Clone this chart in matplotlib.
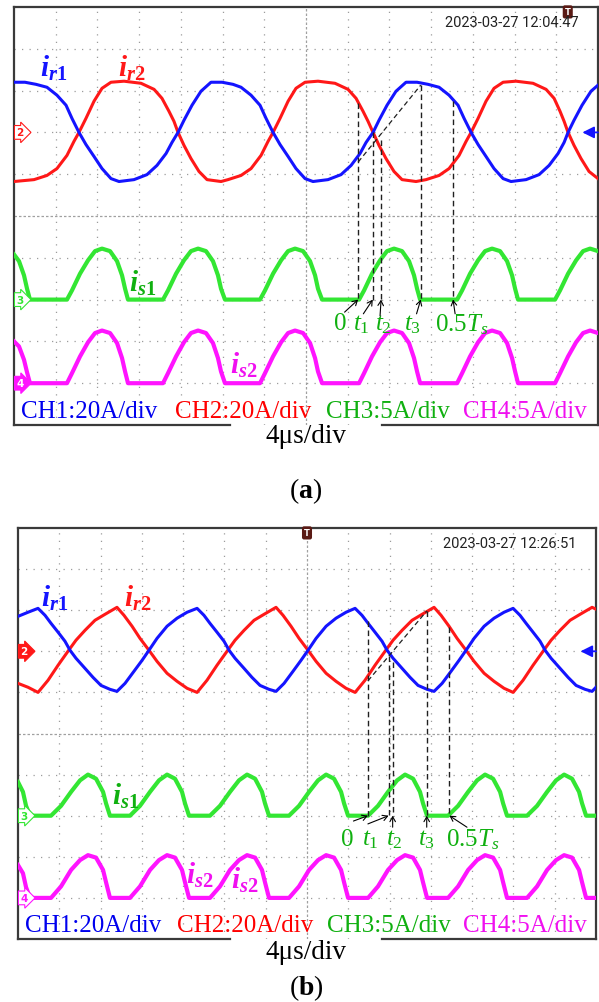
import matplotlib
matplotlib.use("Agg")
import matplotlib.pyplot as plt

plt.rcParams['font.family'] = ['Liberation Serif', 'DejaVu Serif']
plt.rcParams['mathtext.fontset'] = 'custom'
plt.rcParams['mathtext.rm'] = 'Liberation Serif'
plt.rcParams['mathtext.it'] = 'Liberation Serif:italic'
plt.rcParams['mathtext.bf'] = 'Liberation Serif:bold'
if 'mathtext.bfit' in plt.rcParams:
    plt.rcParams['mathtext.bfit'] = 'Liberation Serif:italic:bold'

# ---- scope settings ----
T_DIV = 4.0          # us/div
SCALE_R = 20.0       # A/div CH1, CH2
SCALE_S = 5.0        # A/div CH3, CH4
POS_R, POS_S1, POS_S2 = 7.0, 3.0, 1.0   # channel zero positions (div from bottom)

# ---- (a) waveforms: time [us], current [A] ----
t_r1_a = [0.00, 1.05, 2.11, 3.16, 4.12, 4.99, 5.56, 6.23, 6.90, 7.67, 8.44, 9.30, 10.07, 11.51, 12.75, 13.71,
          14.58, 15.15, 15.73, 16.30, 17.07, 17.93, 18.89, 19.95, 21.00, 21.77, 22.73, 23.59, 24.17, 24.84,
          25.51, 26.28, 27.04, 27.91, 28.67, 30.11, 31.36, 32.32, 33.18, 33.76, 34.43, 35.00, 35.77, 36.63,
          37.59, 38.65, 39.70, 40.76, 41.72, 42.58, 43.16, 43.83, 44.50, 45.26, 46.03, 46.90, 47.66, 49.10,
          50.35, 51.31, 52.17, 52.75, 53.13, 53.70, 54.47, 55.33, 56.00]
i_r1_a = [24.0, 24.0, 23.0, 21.6, 17.8, 13.0, 6.7, 0.0, -5.8, -11.5, -17.3, -22.1, -23.5, -22.6, -20.2, -15.8,
          -10.1, -4.8, 0.0, 5.8, 13.0, 19.7, 24.0, 24.0, 23.0, 21.6, 17.8, 13.0, 6.7, 0.0,
          -5.8, -11.5, -17.3, -22.1, -23.5, -22.6, -20.2, -15.8, -10.1, -4.8, 0.0, 5.8, 13.0, 19.7,
          24.0, 24.0, 23.0, 21.6, 17.8, 13.0, 6.7, 0.0, -5.8, -11.5, -17.3, -22.1, -23.5, -22.6,
          -20.2, -15.8, -10.1, -4.8, 0.0, 5.8, 13.0, 19.7, 22.6]

t_r2_a = [0.00, 1.92, 3.16, 4.12, 5.08, 5.75, 6.23, 6.90, 7.67, 8.44, 9.30, 10.55, 12.18, 13.43, 14.19,
          14.86, 15.34, 15.73, 16.30, 16.97, 17.74, 18.51, 19.85, 20.52, 21.77, 22.73, 23.69, 24.36, 24.84,
          25.51, 26.28, 27.04, 27.91, 29.15, 30.78, 32.03, 32.80, 33.47, 33.95, 34.43, 35.00, 35.67, 36.44,
          37.21, 38.55, 39.51, 40.76, 41.72, 42.68, 43.35, 43.83, 44.50, 45.26, 46.03, 46.90, 48.14, 49.77,
          51.02, 51.79, 52.36, 52.75, 53.13, 53.70, 54.37, 55.14, 56.00]
i_r2_a = [-23.5, -22.6, -20.6, -17.3, -11.0, -4.3, 0.0, 6.7, 14.9, 21.1, 24.0, 24.5, 23.5, 20.6, 16.3,
          10.1, 5.3, 0.0, -6.2, -12.5, -18.7, -22.6, -23.5, -22.6, -20.6, -17.3, -11.0, -4.3, 0.0,
          6.7, 14.9, 21.1, 24.0, 24.5, 23.5, 20.6, 16.3, 10.1, 5.3, 0.0, -6.2, -12.5, -18.7,
          -22.6, -23.5, -22.6, -20.6, -17.3, -11.0, -4.3, 0.0, 6.7, 14.9, 21.1, 24.0, 24.5, 23.5,
          20.6, 16.3, 10.1, 5.3, 0.0, -6.2, -12.5, -18.7, -22.1]

t_s_a = [0.00, 0.48, 0.96, 1.25, 1.53,
         5.08, 5.56, 6.33, 7.10, 7.77, 8.44, 9.21, 9.88, 10.36, 10.65, 10.93,
         14.29, 14.77, 15.54, 16.30, 16.97, 17.65, 18.41, 19.08, 19.56, 19.85, 20.23,
         23.59, 24.07, 24.84, 25.61, 26.28, 26.95, 27.72, 28.39, 28.87, 29.15, 29.54,
         33.09, 33.57, 34.33, 35.10, 35.77, 36.44, 37.21, 37.88, 38.36, 38.65, 38.94,
         42.49, 42.97, 43.73, 44.50, 45.17, 45.84, 46.61, 47.28, 47.76, 48.05, 48.33,
         51.88, 52.36, 53.13, 53.90, 54.57, 55.24, 56.00]
i_s1_a = [5.4, 4.6, 2.9, 1.3, 0.0,
          0.0, 1.1, 3.1, 4.7, 5.8, 6.1, 5.8, 4.6, 2.9, 1.3, 0.0,
          0.0, 1.1, 3.1, 4.7, 5.8, 6.1, 5.8, 4.6, 2.9, 1.3, 0.0,
          0.0, 1.1, 3.1, 4.7, 5.8, 6.1, 5.8, 4.6, 2.9, 1.3, 0.0,
          0.0, 1.1, 3.1, 4.7, 5.8, 6.1, 5.8, 4.6, 2.9, 1.3, 0.0,
          0.0, 1.1, 3.1, 4.7, 5.8, 6.1, 5.8, 4.6, 2.9, 1.3, 0.0,
          0.0, 1.1, 3.1, 4.7, 5.8, 6.1, 5.8]
i_s2_a = [5.0, 4.4, 2.8, 1.3, 0.0,
          0.0, 1.2, 3.2, 4.9, 6.0, 6.3, 6.0, 4.8, 3.0, 1.4, 0.0,
          0.0, 1.2, 3.2, 4.9, 6.0, 6.3, 6.0, 4.8, 3.0, 1.4, 0.0,
          0.0, 1.2, 3.2, 4.9, 6.0, 6.3, 6.0, 4.8, 3.0, 1.4, 0.0,
          0.0, 1.2, 3.2, 4.9, 6.0, 6.3, 6.0, 4.8, 3.0, 1.4, 0.0,
          0.0, 1.2, 3.2, 4.9, 6.0, 6.3, 6.0, 4.8, 3.0, 1.4, 0.0,
          0.0, 1.2, 3.2, 4.9, 6.0, 6.3, 6.0]

# ---- (b) waveforms ----
t_r1_b = [0.00, 0.97, 1.94, 2.62, 3.20, 3.88, 4.55, 5.04, 5.62, 6.49, 7.27, 8.04, 8.91, 9.59,
          10.37, 11.24, 12.02, 12.69, 13.47, 14.44, 15.41, 16.38, 17.35,
          18.02, 18.60, 19.28, 19.96, 20.45, 21.03, 21.90, 22.67, 23.45, 24.32, 25.00,
          25.78, 26.65, 27.42, 28.10, 28.88, 29.85, 30.81, 31.78, 32.66,
          33.33, 33.92, 34.59, 35.27, 35.76, 36.34, 37.21, 37.99, 38.76, 39.63, 40.31,
          41.09, 41.96, 42.73, 43.41, 44.19, 45.16, 46.12, 47.09, 47.97,
          48.64, 49.23, 49.90, 50.58, 51.07, 51.65, 52.52, 53.30, 54.07, 54.94, 55.62, 56.00]
i_r1_b = [17.0, 19.0, 20.9, 17.5, 13.6, 9.3, 4.9, 0.5, -3.4, -8.3, -12.7, -16.6, -18.5, -19.5,
          -15.6, -9.7, -4.4, 0.5, 6.3, 12.2, 16.1, 19.0, 20.9,
          17.5, 13.6, 9.3, 4.9, 0.5, -3.4, -8.3, -12.7, -16.6, -18.5, -19.5,
          -15.6, -9.7, -4.4, 0.5, 6.3, 12.2, 16.1, 19.0, 20.9,
          17.5, 13.6, 9.3, 4.9, 0.5, -3.4, -8.3, -12.7, -16.6, -18.5, -19.5,
          -15.6, -9.7, -4.4, 0.5, 6.3, 12.2, 16.1, 19.0, 20.9,
          17.5, 13.6, 9.3, 4.9, 0.5, -3.4, -8.3, -12.7, -16.6, -18.5, -19.5, -17.5]

t_r2_b = [0.00, 0.97, 1.94, 2.91, 3.88, 4.84, 5.62, 6.49, 7.46, 8.43, 9.59,
          10.27, 11.05, 11.82, 12.69, 13.47, 14.44, 15.41, 16.38, 17.35,
          18.31, 19.28, 20.25, 21.03, 21.90, 22.87, 23.84, 25.00,
          25.68, 26.45, 27.23, 28.10, 28.88, 29.85, 30.81, 31.78, 32.66,
          33.62, 34.59, 35.56, 36.34, 37.21, 38.18, 39.15, 40.31,
          40.99, 41.76, 42.54, 43.41, 44.19, 45.16, 46.12, 47.09, 47.97,
          48.93, 49.90, 50.87, 51.65, 52.52, 53.49, 54.46, 55.62, 56.00]
i_r2_b = [-15.6, -17.5, -20.0, -14.1, -6.8, 0.0, 5.4, 10.2, 15.1, 18.0, 21.4,
          17.5, 12.2, 6.3, 0.5, -4.9, -10.7, -14.6, -18.0, -20.0,
          -14.1, -6.8, 0.0, 5.4, 10.2, 15.1, 18.0, 21.4,
          17.5, 12.2, 6.3, 0.5, -4.9, -10.7, -14.6, -18.0, -20.0,
          -14.1, -6.8, 0.0, 5.4, 10.2, 15.1, 18.0, 21.4,
          17.5, 12.2, 6.3, 0.5, -4.9, -10.7, -14.6, -18.0, -20.0,
          -14.1, -6.8, 0.0, 5.4, 10.2, 15.1, 18.0, 21.4, 20.5]

t_s_b = [0.00, 0.48, 0.78, 1.16,
         3.20, 4.17, 5.14, 6.01, 6.78, 7.56, 8.24, 8.53, 8.91,
         10.85, 11.82, 12.79, 13.66, 14.44, 15.21, 15.89, 16.18, 16.57,
         18.60, 19.57, 20.54, 21.41, 22.19, 22.97, 23.64, 23.93, 24.32,
         26.26, 27.23, 28.20, 29.07, 29.85, 30.62, 31.30, 31.59, 31.98,
         33.92, 34.88, 35.85, 36.73, 37.50, 38.28, 38.95, 39.24, 39.63,
         41.67, 42.64, 43.61, 44.48, 45.25, 46.03, 46.71, 47.00, 47.38,
         49.32, 50.29, 51.26, 52.13, 52.91, 53.68, 54.36, 54.65, 55.04,
         56.00]
i_s1_b = [4.1, 2.9, 1.2, 0.0,
          0.0, 1.2, 2.9, 4.3, 5.0, 4.5, 2.9, 1.5, 0.0,
          0.0, 1.2, 2.9, 4.3, 5.0, 4.5, 2.9, 1.5, 0.0,
          0.0, 1.2, 2.9, 4.3, 5.0, 4.5, 2.9, 1.5, 0.0,
          0.0, 1.2, 2.9, 4.3, 5.0, 4.5, 2.9, 1.5, 0.0,
          0.0, 1.2, 2.9, 4.3, 5.0, 4.5, 2.9, 1.5, 0.0,
          0.0, 1.2, 2.9, 4.3, 5.0, 4.5, 2.9, 1.5, 0.0,
          0.0, 1.2, 2.9, 4.3, 5.0, 4.5, 2.9, 1.5, 0.0,
          0.0]
i_s2_b = [4.0, 3.0, 1.3, 0.0,
          0.0, 1.4, 3.4, 4.6, 5.2, 4.9, 3.4, 1.9, 0.0,
          0.0, 1.4, 3.4, 4.6, 5.2, 4.9, 3.4, 1.9, 0.0,
          0.0, 1.4, 3.4, 4.6, 5.2, 4.9, 3.4, 1.9, 0.0,
          0.0, 1.4, 3.4, 4.6, 5.2, 4.9, 3.4, 1.9, 0.0,
          0.0, 1.4, 3.4, 4.6, 5.2, 4.9, 3.4, 1.9, 0.0,
          0.0, 1.4, 3.4, 4.6, 5.2, 4.9, 3.4, 1.9, 0.0,
          0.0, 1.4, 3.4, 4.6, 5.2, 4.9, 3.4, 1.9, 0.0,
          0.0]

# ---- instants marked on the plots: 0, t1, t2, t3, 0.5Ts ----
mark_names = ['$0$', '$t_1$', '$t_2$', '$t_3$', '$0.5T_s$']
mark_t_a = [33.0, 34.4, 35.2, 39.0, 42.1]
mark_top_a = [7.70, 7.01, 6.82, 8.13, 7.75]     # div, where dashed line starts
diag_a = ([33.0, 39.0], [6.29, 8.13])
lab_t_a = [31.2, 33.3, 35.4, 38.2, 42.9]
arr_from_a = [(31.7, 2.70), (33.5, 2.66), (35.1, 2.61), (38.6, 2.66), (42.3, 2.66)]

mark_t_b = [33.9, 35.9, 36.3, 39.6, 41.8]
mark_top_b = [7.74, 6.89, 6.74, 7.98, 7.59]
diag_b = ([33.9, 39.6], [6.28, 7.98])
lab_t_b = [31.9, 34.1, 36.5, 39.6, 44.1]
arr_from_b = [(32.5, 2.87), (33.9, 2.80), (36.3, 2.72), (39.6, 2.72), (43.5, 2.72)]

BLUE, RED, GREEN, MAG = '#1414ff', '#ff1818', '#33e633', '#ff14ff'
GREEN_TXT, MAG_TXT = '#10b010', '#f010f0'
W, H = 599, 1003

fig = plt.figure(figsize=(W / 100, H / 100), dpi=100)


def px_axes(l, t, r, b):
    return fig.add_axes([l / W, 1 - b / H, (r - l) / W, (b - t) / H])


def ch_marker(ax, y, num, color, filled):
    ax.text(0.004, y, num, transform=ax.get_yaxis_transform(), ha='left', va='center',
            fontsize=7.5, fontweight='bold', family='DejaVu Sans',
            color='white' if filled else color,
            bbox=dict(boxstyle='rarrow,pad=0.18', fc=color if filled else 'white', ec=color, lw=0.8))


def draw_panel(ax, tr1, ir1, tr2, ir2, ts, is1, is2, stamp, trig_t, filled, gap):
    ax.set_xlim(0, 14 * T_DIV)
    ax.set_ylim(0, 10)
    ax.set_xticks([])
    ax.set_yticks([])
    for k in range(1, 14):
        if k == 7:
            ax.axvline(k * T_DIV, color='#a0a0a0', lw=0.9, ls=(0, (2, 1.6)), zorder=1)
        else:
            ax.axvline(k * T_DIV, color='#9c9c9c', lw=0.9, ls=(0, (1, 5)), zorder=1)
    for k in range(1, 10):
        if k == 5:
            ax.axhline(k, color='#a0a0a0', lw=0.9, ls=(0, (2, 1.6)), zorder=1)
        else:
            ax.axhline(k, color='#9c9c9c', lw=0.9, ls=(0, (1, 5)), zorder=1)

    for s in ['left', 'right', 'top']:
        ax.spines[s].set_color('#3a3a3a')
        ax.spines[s].set_linewidth(1.6)
    ax.spines['bottom'].set_visible(False)
    ax.plot([0, gap[0]], [0, 0], color='#3a3a3a', lw=1.6, transform=ax.transAxes, clip_on=False)
    ax.plot([gap[1], 1], [0, 0], color='#3a3a3a', lw=1.6, transform=ax.transAxes, clip_on=False)

    ax.plot(ts, [POS_S2 + v / SCALE_S for v in is2], color=MAG, lw=3.0, zorder=3)
    ax.plot(ts, [POS_S1 + v / SCALE_S for v in is1], color=GREEN, lw=3.0, zorder=3)
    ax.plot(tr2, [POS_R + v / SCALE_R for v in ir2], color=RED, lw=2.2, zorder=4)
    ax.plot(tr1, [POS_R + v / SCALE_R for v in ir1], color=BLUE, lw=2.2, zorder=4)

    ch_marker(ax, POS_R, '2', RED, filled[0])
    ch_marker(ax, POS_S1, '3', GREEN, filled[1])
    ch_marker(ax, POS_S2, '4', MAG, filled[2])
    ax.annotate('', xy=(54.5, POS_R), xytext=(56.0, POS_R),
                arrowprops=dict(arrowstyle='-|>,head_length=0.7,head_width=0.35', color=BLUE,
                                lw=1.3, shrinkA=0, shrinkB=0))
    ax.text(trig_t, 9.99, 'T', ha='center', va='top', fontsize=6, color='white',
            family='DejaVu Sans', fontweight='bold',
            bbox=dict(boxstyle='round,pad=0.25', fc='#5a1a14', ec='none'))
    ax.text(54.1, 9.64, stamp, ha='right', va='center', fontsize=10.5, family='Roboto', color='#222222')

    ax.text(0.65, 0.33, 'CH1:20A/div', color='#0000ee', fontsize=18, va='center')
    ax.text(15.4, 0.33, 'CH2:20A/div', color='#ff0000', fontsize=18, va='center')
    ax.text(29.9, 0.33, 'CH3:5A/div', color=GREEN_TXT, fontsize=18, va='center')
    ax.text(43.1, 0.33, 'CH4:5A/div', color=MAG_TXT, fontsize=18, va='center')


def draw_marks(ax, mt, mtop, diag, lt, afrom):
    for x, top in zip(mt, mtop):
        ax.plot([x, x], [top, POS_S1], color='#202020', lw=1.0, ls=(0, (4, 2.5)), zorder=5)
    ax.plot(diag[0], diag[1], color='#202020', lw=0.9, ls=(0, (4, 2.5)), zorder=5)
    for name, x, lx, (fx, fy) in zip(mark_names, mt, lt, afrom):
        ax.text(lx, 2.43, name, color=GREEN_TXT, fontsize=18, ha='center', va='center', zorder=6)
        ax.annotate('', xy=(x, POS_S1), xytext=(fx, fy),
                    arrowprops=dict(arrowstyle='->,head_length=0.35,head_width=0.2', color='black',
                                    lw=0.8, shrinkA=0, shrinkB=0), zorder=6)


lab_r1 = r'$\mathbfit{i}_{\mathbfit{r}\mathbf{1}}$'
lab_r2 = r'$\mathbfit{i}_{\mathbfit{r}\mathbf{2}}$'
lab_s1 = r'$\mathbfit{i}_{\mathbfit{s}\mathbf{1}}$'
lab_s2 = r'$\mathbfit{i}_{\mathbfit{s}\mathbf{2}}$'
LAB_FS = 21

# ---------- panel (a) ----------
ax_a = px_axes(14, 8, 598, 426)
draw_panel(ax_a, t_r1_a, i_r1_a, t_r2_a, i_r2_a, t_s_a, i_s1_a, i_s2_a,
           '2023-03-27 12:04:47', 53.1, (False, False, True), (0.37, 0.63))
draw_marks(ax_a, mark_t_a, mark_top_a, diag_a, lab_t_a, arr_from_a)
ax_a.text(3.8, 8.55, lab_r1, color=BLUE, fontsize=LAB_FS, ha='center', va='center')
ax_a.text(11.3, 8.55, lab_r2, color=RED, fontsize=LAB_FS, ha='center', va='center')
ax_a.text(12.3, 3.42, lab_s1, color=GREEN_TXT, fontsize=LAB_FS, ha='center', va='center')
ax_a.text(22.0, 1.44, lab_s2, color=MAG_TXT, fontsize=LAB_FS, ha='center', va='center')
fig.text(306 / W, 1 - 437 / H, '4μs/div', ha='center', va='center', fontsize=19.5)
fig.text(306 / W, 1 - 491 / H, r'($\mathbf{a}$)', ha='center', va='center', fontsize=20)

# ---------- panel (b) ----------
ax_b = px_axes(18, 529, 596, 940)
draw_panel(ax_b, t_r1_b, i_r1_b, t_r2_b, i_r2_b, t_s_b, i_s1_b, i_s2_b,
           '2023-03-27 12:26:51', 28.0, (True, False, False), (0.367, 0.63))
draw_marks(ax_b, mark_t_b, mark_top_b, diag_b, lab_t_b, arr_from_b)
ax_b.text(3.6, 8.3, lab_r1, color=BLUE, fontsize=LAB_FS, ha='center', va='center')
ax_b.text(11.6, 8.3, lab_r2, color=RED, fontsize=LAB_FS, ha='center', va='center')
ax_b.text(10.4, 3.50, lab_s1, color=GREEN_TXT, fontsize=LAB_FS, ha='center', va='center')
ax_b.text(17.6, 1.58, lab_s2, color=MAG_TXT, fontsize=LAB_FS, ha='center', va='center')
ax_b.text(22.0, 1.46, lab_s2, color=MAG_TXT, fontsize=LAB_FS, ha='center', va='center')
fig.text(306 / W, 1 - 953 / H, '4μs/div', ha='center', va='center', fontsize=19.5)
fig.text(306 / W, 1 - 988 / H, r'($\mathbf{b}$)', ha='center', va='center', fontsize=20)

fig.savefig('out.png', dpi=100)
